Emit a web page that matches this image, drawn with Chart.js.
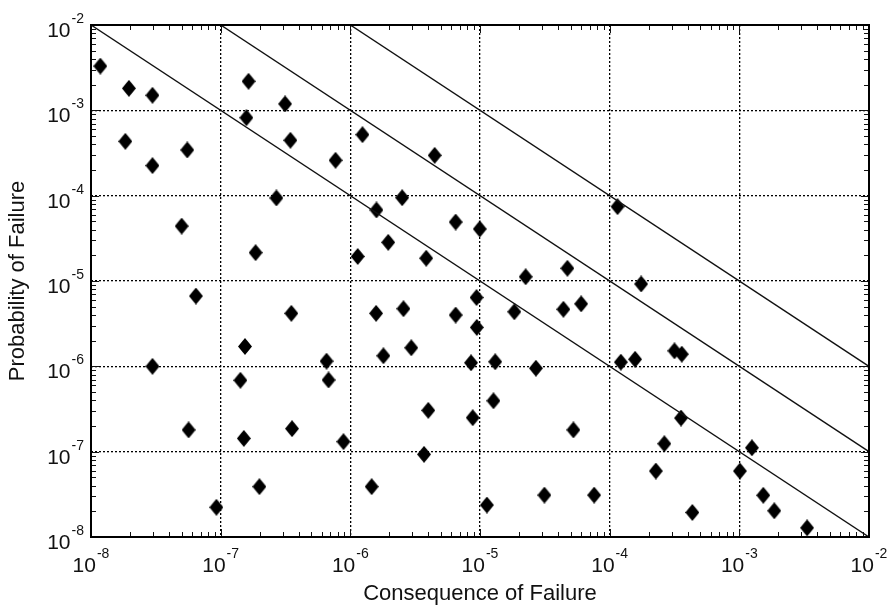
<!DOCTYPE html>
<html>
<head>
<meta charset="utf-8">
<script src="https://cdn.jsdelivr.net/npm/chart.js@4/dist/chart.umd.min.js"></script>
<style>
  html, body { margin: 0; padding: 0; background: #fff; }
  canvas { display: block; }
</style>
</head>
<body>
<canvas id="c" width="890" height="608"></canvas>
<script>
// ---- data ----
const consequence = [
  1.18e-8, 1.96e-8, 2.98e-8, 1.84e-8, 2.98e-8, 5.53e-8, 1.64e-7, 1.58e-7, 3.14e-7, 3.45e-7,
  2.69e-7, 5.0e-8, 1.86e-7, 6.44e-8, 3.51e-7, 1.54e-7, 2.98e-8, 1.42e-7, 5.66e-8, 1.51e-7,
  3.55e-7, 1.99e-7, 9.27e-8, 7.69e-7, 1.24e-6, 4.47e-6, 2.51e-6, 1.59e-6, 6.49e-6, 9.96e-6,
  1.96e-6, 1.14e-6, 3.85e-6, 2.25e-5, 4.72e-5, 9.4e-6, 6.03e-5, 1.58e-6, 2.57e-6, 6.49e-6,
  9.44e-6, 1.84e-5, 4.4e-5, 6.55e-7, 6.79e-7, 1.8e-6, 2.95e-6, 8.53e-6, 1.31e-5, 2.7e-5,
  3.99e-6, 1.27e-5, 8.79e-6, 8.85e-7, 3.7e-6, 5.25e-5, 1.46e-6, 1.13e-5, 3.14e-5, 7.59e-5,
  1.15e-4, 1.75e-4, 1.22e-4, 1.57e-4, 3.16e-4, 3.6e-4, 3.55e-4, 2.64e-4, 2.27e-4, 4.34e-4,
  1.25e-3, 1.01e-3, 1.53e-3, 1.86e-3, 3.33e-3
];
const probability = [
  3.3e-3, 1.81e-3, 1.5e-3, 4.33e-4, 2.25e-4, 3.43e-4, 2.19e-3, 8.2e-4, 1.19e-3, 4.46e-4,
  9.4e-5, 4.4e-5, 2.15e-5, 6.67e-6, 4.18e-6, 1.71e-6, 1.0e-6, 6.86e-7, 1.8e-7, 1.43e-7,
  1.86e-7, 3.89e-8, 2.23e-8, 2.6e-4, 5.19e-4, 2.97e-4, 9.46e-5, 6.8e-5, 4.91e-5, 4.07e-5,
  2.84e-5, 1.94e-5, 1.85e-5, 1.12e-5, 1.41e-5, 6.4e-6, 5.4e-6, 4.18e-6, 4.73e-6, 3.99e-6,
  2.86e-6, 4.36e-6, 4.66e-6, 1.15e-6, 6.92e-7, 1.33e-6, 1.65e-6, 1.1e-6, 1.13e-6, 9.5e-7,
  3.05e-7, 3.95e-7, 2.5e-7, 1.31e-7, 9.3e-8, 1.8e-7, 3.89e-8, 2.37e-8, 3.1e-8, 3.1e-8,
  7.43e-5, 9.23e-6, 1.12e-6, 1.21e-6, 1.52e-6, 1.39e-6, 2.48e-7, 1.24e-7, 5.93e-8, 1.94e-8,
  1.11e-7, 5.93e-8, 3.08e-8, 2.03e-8, 1.28e-8
];
// iso-risk lines (probability x consequence = constant)
const riskLevels = [1e-10, 1e-9, 1e-8];
// axis decades and tick label exponents
const xDecades = [1e-8, 1e-7, 1e-6, 1e-5, 1e-4, 1e-3, 1e-2];
const xExponents = ['-8', '-7', '-6', '-5', '-4', '-3', '-2'];
const yDecades = [1e-8, 1e-7, 1e-6, 1e-5, 1e-4, 1e-3, 1e-2];
const yExponents = ['-8', '-7', '-6', '-5', '-4', '-3', '-2'];
const tickBase = '10';
const xTitle = 'Consequence of Failure';
const yTitle = 'Probability of Failure';

// ---- styling ----
const FONT = "'Liberation Sans', Arial, Helvetica, sans-serif";
const INK = '#111';

function diamond(w, h) {
  const c = document.createElement('canvas');
  c.width = w; c.height = h;
  const g = c.getContext('2d');
  g.fillStyle = '#000';
  g.beginPath();
  g.moveTo(w / 2, 0); g.lineTo(w, h / 2); g.lineTo(w / 2, h); g.lineTo(0, h / 2);
  g.closePath(); g.fill();
  return c;
}
const diamondImg = diamond(14, 17);

const xMin = xDecades[0], xMax = xDecades[xDecades.length - 1];
const lineDatasets = riskLevels.map(r => ({
  type: 'line',
  data: [{ x: r / yDecades[yDecades.length - 1], y: yDecades[yDecades.length - 1] },
         { x: xMax, y: r / xMax }],
  borderColor: '#111',
  borderWidth: 1.4,
  pointRadius: 0,
  fill: false,
  tension: 0
}));

const scatterData = consequence.map((c, i) => ({ x: c, y: probability[i] }));

const frame = {
  id: 'frame',
  afterDatasetsDraw(chart) {
    const { ctx, chartArea: a, scales: { x, y } } = chart;
    ctx.save();
    ctx.strokeStyle = '#111';
    ctx.lineWidth = 1;
    ctx.setLineDash([]);
    // minor / major ticks inward on all sides
    ctx.beginPath();
    for (let d = 0; d < xDecades.length; d++) {
      const base = xDecades[d];
      for (let k = 1; k <= 9; k++) {
        const v = base * k;
        if (v > xMax * 1.0001) break;
        const px = Math.round(x.getPixelForValue(v)) + 0.5;
        const len = k === 1 ? 8 : 5;
        ctx.moveTo(px, a.bottom); ctx.lineTo(px, a.bottom - len);
        ctx.moveTo(px, a.top); ctx.lineTo(px, a.top + len);
      }
    }
    const yMax = yDecades[yDecades.length - 1];
    for (let d = 0; d < yDecades.length; d++) {
      const base = yDecades[d];
      for (let k = 1; k <= 9; k++) {
        const v = base * k;
        if (v > yMax * 1.0001) break;
        const py = Math.round(y.getPixelForValue(v)) + 0.5;
        const len = k === 1 ? 8 : 5;
        ctx.moveTo(a.left, py); ctx.lineTo(a.left + len, py);
        ctx.moveTo(a.right, py); ctx.lineTo(a.right - len, py);
      }
    }
    ctx.stroke();
    // frame
    ctx.lineWidth = 2;
    ctx.strokeStyle = '#000';
    ctx.strokeRect(a.left, a.top, a.right - a.left, a.bottom - a.top);

    // tick labels with superscript exponents
    ctx.fillStyle = INK;
    ctx.textBaseline = 'alphabetic';
    ctx.textAlign = 'left';
    const mainFont = '21px ' + FONT;
    const supFont = '14px ' + FONT;
    xDecades.forEach((v, i) => {
      const px = x.getPixelForValue(v);
      ctx.font = mainFont; const w1 = ctx.measureText(tickBase).width;
      ctx.font = supFont; const w2 = ctx.measureText(xExponents[i]).width;
      const start = px - (w1 + w2 + 1) / 2;
      ctx.font = mainFont; ctx.fillText(tickBase, start, a.bottom + 35);
      ctx.font = supFont; ctx.fillText(xExponents[i], start + w1 + 1, a.bottom + 21);
    });
    yDecades.forEach((v, i) => {
      const py = y.getPixelForValue(v);
      ctx.font = supFont; const w2 = ctx.measureText(yExponents[i]).width;
      ctx.font = mainFont; const w1 = ctx.measureText(tickBase).width;
      const right = a.left - 7;
      ctx.font = mainFont; ctx.fillText(tickBase, right - w2 - 1 - w1, py + 12);
      ctx.font = supFont; ctx.fillText(yExponents[i], right - w2, py - 2);
    });
    ctx.restore();
  }
};

new Chart(document.getElementById('c'), {
  type: 'scatter',
  data: {
    datasets: [
      ...lineDatasets,
      {
        type: 'scatter',
        data: scatterData,
        pointStyle: diamondImg,
        pointRadius: 8,
        backgroundColor: '#000',
        borderColor: '#000'
      }
    ]
  },
  options: {
    responsive: false,
    animation: false,
    events: [],
    layout: { padding: { top: 25, right: 21, left: 0, bottom: 0 } },
    plugins: { legend: { display: false }, tooltip: { enabled: false } },
    scales: {
      x: {
        type: 'logarithmic',
        position: 'bottom',
        min: xMin, max: xMax,
        afterBuildTicks: s => { s.ticks = xDecades.map(v => ({ value: v })); },
        afterFit: s => { s.height = 71; },
        ticks: { display: false },
        grid: { color: '#000', lineWidth: 1.3, drawTicks: false },
        border: { display: false, dash: [2, 2] },
        title: { display: true, text: xTitle, color: INK,
                 font: { family: FONT, size: 22 }, padding: { top: 0, bottom: 1 } }
      },
      y: {
        type: 'logarithmic',
        position: 'left',
        min: yDecades[0], max: yDecades[yDecades.length - 1],
        afterBuildTicks: s => { s.ticks = yDecades.map(v => ({ value: v })); },
        afterFit: s => { s.width = 91; },
        ticks: { display: false },
        grid: { color: '#000', lineWidth: 1.3, drawTicks: false },
        border: { display: false, dash: [2, 2] },
        title: { display: true, text: yTitle, color: INK,
                 font: { family: FONT, size: 22 }, padding: { top: 5, bottom: 0 } }
      }
    }
  },
  plugins: [frame]
});
</script>
</body>
</html>
